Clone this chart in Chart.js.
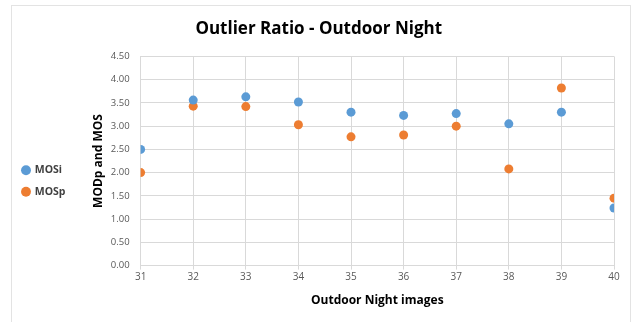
<!DOCTYPE html>
<html>
<head>
<meta charset="utf-8">
<script src="https://cdn.jsdelivr.net/npm/chart.js@4/dist/chart.umd.min.js"></script>
<style>
  html, body { margin: 0; padding: 0; background: #fff; }
  #wrap { position: relative; width: 636px; height: 322px; }
  #frame { position: absolute; left: 11px; top: 5px; width: 620px; height: 330px;
           border: 1.5px solid #e3e3e3; box-sizing: border-box; }
  canvas { position: absolute; left: 0; top: 0; }
</style>
</head>
<body>
<div id="wrap">
  <div id="frame"></div>
  <canvas id="c" width="636" height="322"></canvas>
</div>
<script>
// Image index along the x axis
const images = [31, 32, 33, 34, 35, 36, 37, 38, 39, 40];
// Scores per image
const mosi = [2.50, 3.56, 3.63, 3.52, 3.30, 3.23, 3.27, 3.05, 3.30, 1.24];
const mosp = [2.00, 3.43, 3.42, 3.03, 2.77, 2.81, 3.00, 2.08, 3.82, 1.45];
// Y axis tick range
const yTicks = { min: 0, max: 4.5, step: 0.5 };

const FONT = "'Open Sans', 'DejaVu Sans', sans-serif";

const toPoints = vals => images.map((x, i) => ({ x: x, y: vals[i] }));

// Moves the legend column left and down, beside the lower half of the axis
const legendShift = {
  id: 'legendShift',
  afterLayout(chart) {
    const lg = chart.legend;
    if (!lg) return;
    const dx = -12, dy = 20;
    lg.left += dx; lg.right += dx;
    lg.top += dy; lg.bottom += dy;
  }
};

new Chart(document.getElementById('c'), {
  type: 'scatter',
  data: {
    datasets: [
      { label: 'MOSi', data: toPoints(mosi), backgroundColor: '#5B9BD5', borderColor: '#5B9BD5',
        pointRadius: 4.5, pointHoverRadius: 4.5, borderWidth: 0 },
      { label: 'MOSp', data: toPoints(mosp), backgroundColor: '#ED7D31', borderColor: '#ED7D31',
        pointRadius: 4.5, pointHoverRadius: 4.5, borderWidth: 0 }
    ]
  },
  options: {
    responsive: false,
    animation: false,
    devicePixelRatio: 1,
    layout: { padding: { left: 23.5, right: 22, top: 19, bottom: 10 } },
    plugins: {
      title: {
        display: true,
        text: 'Outlier Ratio - Outdoor Night',
        color: '#000',
        font: { family: FONT, size: 17, weight: 'bold' },
        padding: { top: 0, bottom: 17 }
      },
      legend: {
        position: 'left',
        fullSize: false,
        labels: {
          usePointStyle: true,
          pointStyle: 'circle',
          boxWidth: 7,
          boxHeight: 7,
          padding: 11,
          color: '#404040',
          font: { family: FONT, size: 10.5, weight: 'bold' }
        }
      },
      tooltip: { enabled: false }
    },
    scales: {
      x: {
        type: 'linear',
        min: images[0],
        max: images[images.length - 1],
        ticks: { stepSize: 1, color: '#595959', font: { family: FONT, size: 10 }, padding: 2 },
        grid: { color: '#d9d9d9', tickLength: 4 },
        border: { color: '#d9d9d9' },
        title: { display: true, text: 'Outdoor Night images', color: '#000',
                 font: { family: FONT, size: 12, weight: 'bold' }, padding: { top: 8 } }
      },
      y: {
        min: yTicks.min,
        max: yTicks.max,
        ticks: { stepSize: yTicks.step, color: '#595959', font: { family: FONT, size: 9.5 },
                 padding: 11, callback: v => Number(v).toFixed(2) },
        grid: { color: '#d9d9d9', drawTicks: false },
        border: { color: '#d9d9d9' },
        title: { display: true, text: 'MODp and MOS', color: '#000',
                 font: { family: FONT, size: 12, weight: 'bold' }, padding: { top: 4, bottom: -6 } }
      }
    }
  },
  plugins: [legendShift]
});
</script>
</body>
</html>
